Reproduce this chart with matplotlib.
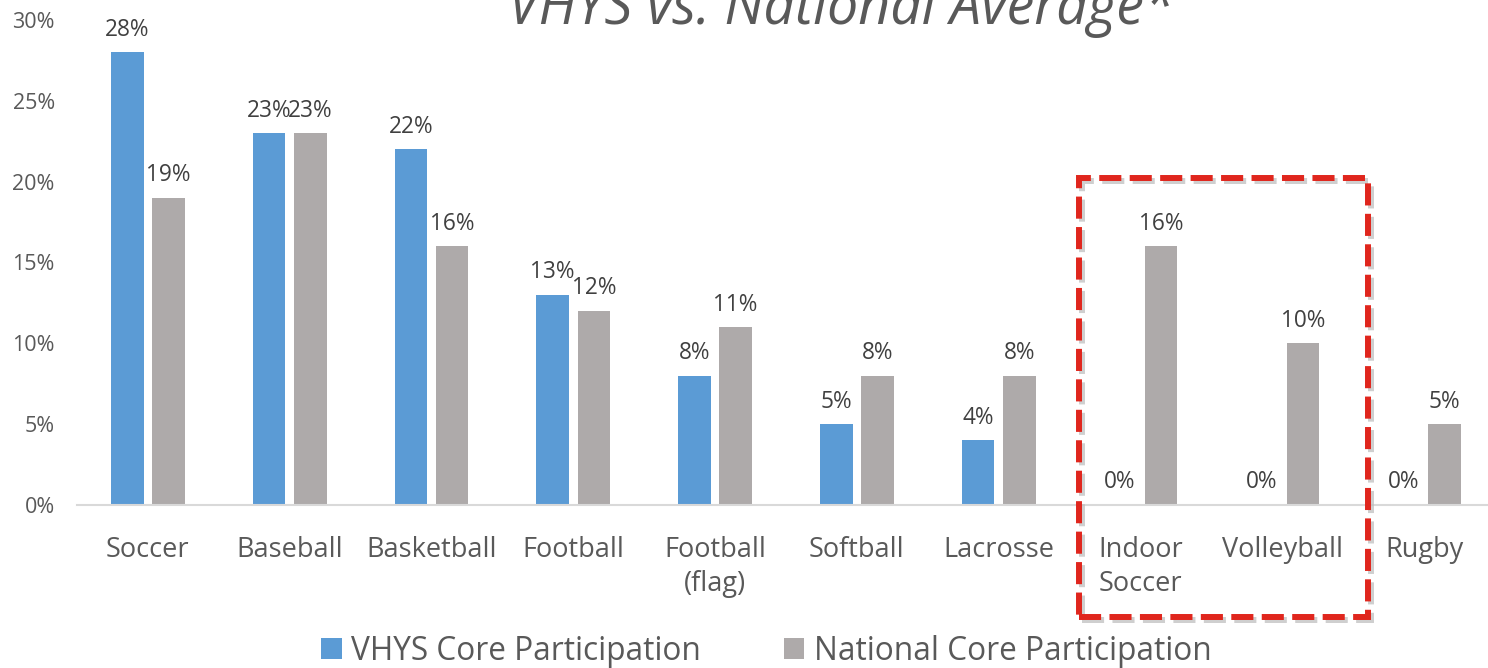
import matplotlib.pyplot as plt
from matplotlib.patches import Rectangle
import numpy as np

sports = ["Soccer", "Baseball", "Basketball", "Football", "Football\n(flag)",
          "Softball", "Lacrosse", "Indoor\nSoccer", "Volleyball", "Rugby"]
vhys = [28, 23, 22, 13, 8, 5, 4, 0, 0, 0]
national = [19, 23, 16, 12, 11, 8, 8, 16, 10, 5]

blue = "#5B9BD5"
grey = "#AEAAAA"
txt = "#595959"
plt.rcParams["font.family"] = ["Open Sans", "DejaVu Sans"]

fig = plt.figure(figsize=(14.88, 6.68), dpi=100)
ax = fig.add_axes([77 / 1488, 1 - 505 / 668, 1418 / 1488, 485 / 668])

x = np.arange(len(sports))
w = 0.23
off = 0.145
b1 = ax.bar(x - off, vhys, w, color=blue, label="VHYS Core Participation")
b2 = ax.bar(x + off, national, w, color=grey, label="National Core Participation")

# value labels above every bar (zeros too)
for bars in (b1, b2):
    for r in bars:
        ax.text(r.get_x() + r.get_width() / 2, r.get_height() + 0.65,
                f"{r.get_height():.0f}%", ha="center", va="bottom",
                fontsize=16.3, color="#404040")

ax.set_xlim(-0.5, len(sports) - 0.5)
ax.set_ylim(0, 30)
ax.set_yticks(range(0, 31, 5))
ax.set_yticklabels([f"{v}%" for v in range(0, 31, 5)])
ax.set_xticks(x)
ax.set_xticklabels(sports, multialignment="center", linespacing=1.3)
ax.tick_params(axis="y", length=0, labelsize=15.5, colors=txt, pad=16)
ax.tick_params(axis="x", length=0, labelsize=19.5, colors=txt, pad=22)
for s in ["top", "right", "left"]:
    ax.spines[s].set_visible(False)
ax.spines["bottom"].set_color("#D9D9D9")
ax.spines["bottom"].set_linewidth(1.5)

fig.text(0.565, 1 - 24 / 668, "VHYS vs. National Average*", ha="center",
         va="baseline", fontsize=40, style="italic", color=txt)

fig.legend(loc="center", bbox_to_anchor=(0.515, 1 - 651 / 668), ncol=2,
           frameon=False, fontsize=22.8, handlelength=0.65, handleheight=0.65,
           handletextpad=0.3, columnspacing=2.6, labelcolor=txt)

# red dashed highlight box with a soft shadow
shadow = Rectangle((1082 / 1488, 1 - 620 / 668), 289 / 1488, 439 / 668,
                   transform=fig.transFigure, fill=False, edgecolor="#BBBBBB",
                   linewidth=4.3, linestyle=(0, (3.7, 1.4)), alpha=0.7)
box = Rectangle((1079 / 1488, 1 - 617 / 668), 289 / 1488, 439 / 668,
                transform=fig.transFigure, fill=False, edgecolor="#E0261D",
                linewidth=4.3, linestyle=(0, (3.7, 1.4)))
fig.patches.extend([shadow, box])

fig.savefig("out.png", dpi=100)
